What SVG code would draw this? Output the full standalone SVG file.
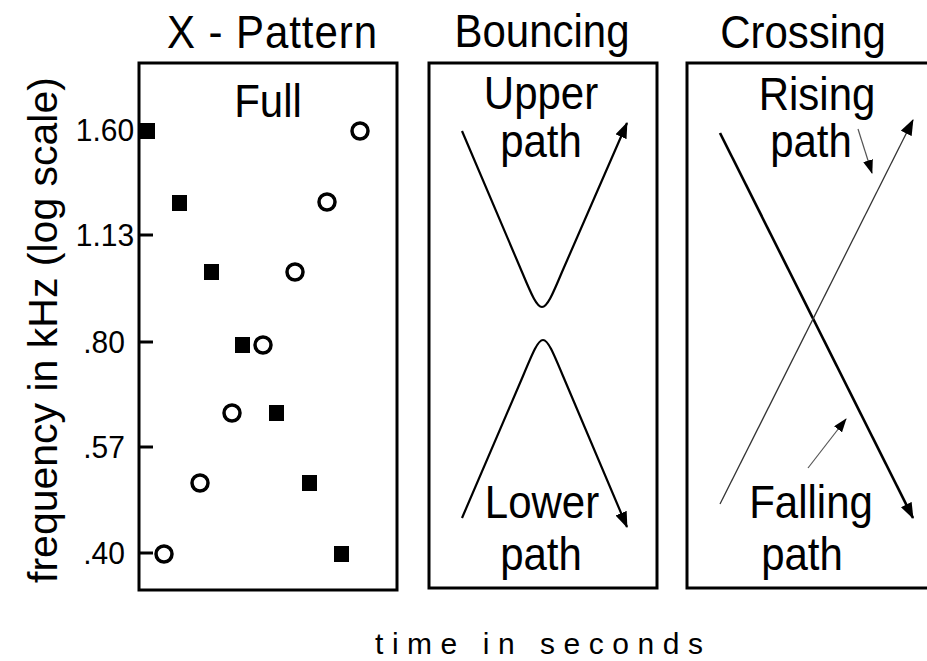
<svg xmlns="http://www.w3.org/2000/svg" width="927" height="661" viewBox="0 0 927 661">
<style>
text{font-family:"Liberation Sans",Arial,sans-serif;fill:#000}
.title{font-size:42px;text-anchor:middle}
.lbl{font-size:42px;text-anchor:middle}
.tick{font-size:30px;text-anchor:middle}
.box{fill:none;stroke:#000;stroke-width:3}
.tk{stroke:#000;stroke-width:3}
.sq{fill:#000}
.ci{fill:none;stroke:#000;stroke-width:3.5}
.curve{fill:none;stroke:#000;stroke-width:2.2}
.fall{fill:none;stroke:#000;stroke-width:2.6}
.rise{fill:none;stroke:#333;stroke-width:1.3}
.small{fill:none;stroke:#555;stroke-width:1.2}
</style>
<defs>
<marker id="ah" markerUnits="userSpaceOnUse" viewBox="0 0 16 12" markerWidth="16" markerHeight="12" refX="15" refY="6" orient="auto">
<path d="M0,0 L16,6 L0,12 z" fill="#000"/>
</marker>
<marker id="ahs" markerUnits="userSpaceOnUse" viewBox="0 0 14 10" markerWidth="14" markerHeight="10" refX="13" refY="5" orient="auto">
<path d="M0,0 L14,5 L0,10 z" fill="#000"/>
</marker>
</defs>

<g id="titles">
<text class="title" transform="translate(272,48) scale(1,1.08)" textLength="210" lengthAdjust="spacing">X - Pattern</text>
<text class="title" transform="translate(542,47) scale(1,1.08)">Bouncing</text>
<text class="title" transform="translate(803,48) scale(1,1.08)">Crossing</text>
</g>

<g id="y-axis">
<text font-size="41" transform="translate(57,330) rotate(-90)" text-anchor="middle">frequency in kHz (log scale)</text>
<text class="tick" transform="translate(105,141) scale(1,1.04)">1.60</text>
<text class="tick" transform="translate(105,246) scale(1,1.04)">1.13</text>
<text class="tick" transform="translate(104,353) scale(1,1.04)">.80</text>
<text class="tick" transform="translate(104,458) scale(1,1.04)">.57</text>
<text class="tick" transform="translate(104,564) scale(1,1.04)">.40</text>
</g>

<g id="x-axis">
<text font-size="30" x="375" y="654" textLength="328" lengthAdjust="spacing">time in seconds</text>
</g>

<g id="panel-full">
<rect class="box" x="139" y="63" width="258" height="527"/>
<line class="tk" x1="139" y1="130" x2="153" y2="130"/>
<line class="tk" x1="139" y1="235" x2="153" y2="235"/>
<line class="tk" x1="139" y1="342" x2="153" y2="342"/>
<line class="tk" x1="139" y1="447" x2="153" y2="447"/>
<line class="tk" x1="139" y1="553" x2="153" y2="553"/>
<text class="lbl" transform="translate(268,117) scale(1,1.08)">Full</text>
<rect class="sq" x="140" y="123" width="15" height="16"/>
<rect class="sq" x="172" y="195" width="15" height="16"/>
<rect class="sq" x="204" y="264" width="15" height="16"/>
<rect class="sq" x="235" y="337" width="15" height="16"/>
<rect class="sq" x="269" y="405" width="15" height="16"/>
<rect class="sq" x="302" y="475" width="15" height="16"/>
<rect class="sq" x="334" y="546" width="15" height="16"/>
<circle class="ci" cx="164" cy="554" r="8"/>
<circle class="ci" cx="200" cy="483" r="8"/>
<circle class="ci" cx="232" cy="413" r="8"/>
<circle class="ci" cx="263" cy="345" r="8"/>
<circle class="ci" cx="295" cy="272" r="8"/>
<circle class="ci" cx="327" cy="202" r="8"/>
<circle class="ci" cx="360" cy="131" r="8"/>
</g>

<g id="panel-bouncing">
<rect class="box" x="429" y="63" width="228" height="525"/>
<text class="lbl" transform="translate(541,109) scale(1,1.08)">Upper</text>
<text class="lbl" transform="translate(541,157) scale(1,1.08)">path</text>
<text class="lbl" transform="translate(542,518) scale(1,1.08)">Lower</text>
<text class="lbl" transform="translate(541,570) scale(1,1.08)">path</text>
</g>

<g id="panel-crossing">
<path class="box" d="M930,63 L687,63 L687,588 L930,588"/>
<text class="lbl" transform="translate(817,110) scale(1,1.08)">Rising</text>
<text class="lbl" transform="translate(811,157) scale(1,1.08)">path</text>
<text class="lbl" transform="translate(811,518) scale(1,1.08)">Falling</text>
<text class="lbl" transform="translate(802,570) scale(1,1.08)">path</text>
</g>

<g id="connectors">
<path class="curve" d="M462,131 L522,272 C532,296 537,307 542,307 C547,307 552,296 562,272 L627,123" marker-end="url(#ah)"/>
<path class="curve" d="M462,518 L523,376 C533,352 538,340 543,340 C548,340 553,352 563,376 L627,527" marker-end="url(#ah)"/>
<path class="fall" d="M720,133 L913,518" marker-end="url(#ah)"/>
<path class="rise" d="M720,504 L913,120" marker-end="url(#ah)"/>
<path class="small" d="M858,129 L872,173" marker-end="url(#ahs)"/>
<path class="small" d="M808,468 L846,419" marker-end="url(#ahs)"/>
</g>
</svg>
